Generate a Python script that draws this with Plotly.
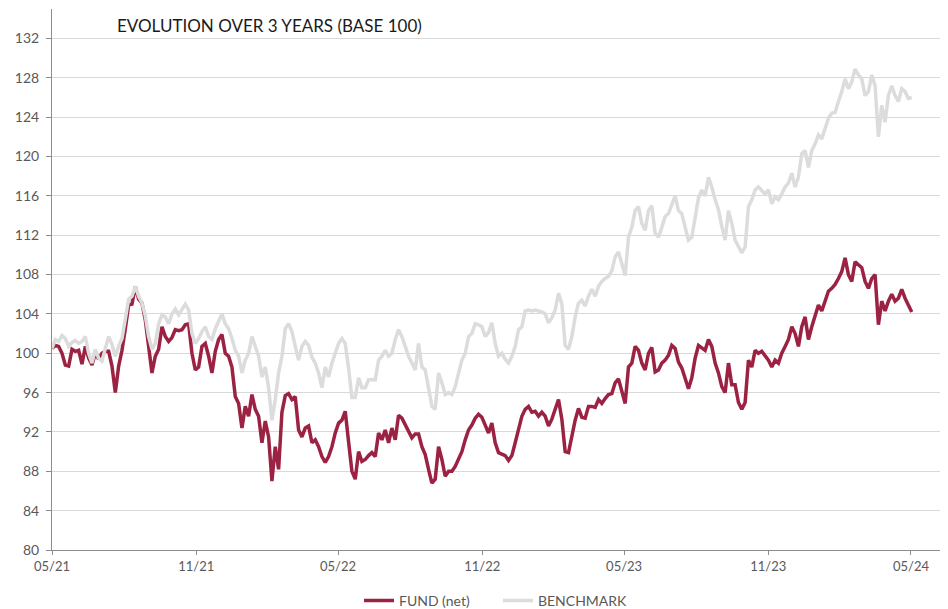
import pandas as pd
import plotly.graph_objects as go

# ---- data (roughly every 4 days) ----
fund_2021 = [100.5, 100.8, 100.7, 100.0, 98.8, 98.7, 100.4, 100.2, 100.3, 98.9, 100.7, 99.5, 98.8,
             100.0, 99.4, 100.0, 100.2, 100.2, 98.7, 96.0, 98.7, 100.3, 102.5, 104.9, 105.0, 106.8,
             105.5, 105.1, 103.4, 100.7, 98.0, 99.7, 100.4,
             102.7, 101.7, 101.2, 101.6, 102.4, 102.3, 102.4, 102.9, 103.0, 100.0, 98.3, 98.6, 100.7,
             101.0, 99.7, 98.0, 100.2, 101.4, 101.9, 100.0, 99.7, 98.6, 95.6, 94.9, 92.4, 94.6, 93.6,
             95.8, 94.3, 93.6, 90.9, 93.1, 91.5]
fund_2022a = [87.0, 90.5, 88.2, 94.0, 95.7, 95.9, 95.3, 95.6, 92.2, 91.5, 92.4, 92.6, 90.9, 91.2,
              90.5, 89.5, 88.9, 89.5, 90.5, 91.9, 92.9, 93.2, 94.1, 91.0, 88.0, 87.2, 90.0, 89.0,
              89.2, 89.6, 89.9,
              89.5, 91.9, 91.2, 92.2, 90.9, 92.4, 91.2, 93.7, 93.4, 92.7, 92.0, 91.4, 91.8, 91.8,
              90.5, 89.7, 88.2, 86.8, 87.2, 90.5, 89.2, 87.5, 88.0, 88.0, 88.5, 89.2, 90.0, 91.2,
              92.2, 92.7, 93.4, 93.8, 93.5]
fund_2022b = [92.7, 91.9, 92.9, 90.9, 89.9, 89.7, 89.6, 89.1, 89.6, 90.9, 92.3, 93.6, 94.3, 94.6,
              94.0, 94.1, 93.6, 94.0, 93.6, 92.6, 93.3, 94.3, 95.3, 93.3, 90.0, 89.9, 91.6, 93.2,
              94.4, 93.5, 93.4, 94.6, 94.6,
              94.5, 95.3, 94.9, 95.4, 95.8, 95.9, 97.0, 97.4, 96.1, 94.9, 98.6, 99.0, 100.7, 100.3,
              99.0, 98.3, 100.0, 100.6, 98.1, 98.3, 99.0, 99.3, 99.8, 100.8, 100.5, 99.1, 98.5, 97.3,
              96.4, 97.5, 99.5, 100.8, 100.5]
fund_2023 = [100.3, 101.4, 100.7, 99.0, 98.0, 96.6, 96.0, 99.0, 96.8, 96.8, 95.0, 94.3, 95.0, 99.3,
             98.6, 100.3, 100.0, 100.2, 99.7, 99.3, 98.6, 99.3, 99.0, 100.0, 100.7, 101.4, 102.7,
             102.0, 100.7, 102.7, 103.7, 101.4, 102.7,
             103.9, 104.9, 104.3, 105.3, 106.3, 106.6, 107.0, 107.6, 108.3, 109.7, 108.0, 107.3,
             109.3, 109.0, 108.7, 107.3, 106.6, 107.6, 108.0, 102.9, 105.3, 104.3, 105.3, 106.0,
             105.3, 105.6, 106.5, 105.6, 104.9, 104.2]

bench_2021 = [100.5, 101.4, 101.2, 101.8, 101.5, 100.7, 101.1, 101.3, 101.0, 101.2, 101.7, 100.0, 99.0,
              100.4, 99.5, 99.2, 100.5, 101.7, 100.9, 99.7, 100.7, 101.5, 103.5, 105.5, 105.8, 106.8,
              105.8, 105.1, 103.8, 101.7, 100.4, 101.0, 103.0,
              103.9, 103.7, 103.0, 104.0, 104.5, 103.9, 104.5, 105.0, 104.4, 102.0, 101.0, 101.5,
              102.2, 102.7, 101.7, 101.4, 102.5, 103.2, 104.0, 103.0, 102.5, 101.5, 100.3, 99.7,
              98.0, 99.3, 100.0, 101.7, 100.7, 99.7, 97.6, 98.6, 96.5]
bench_2022a = [93.2, 95.3, 98.0, 99.7, 102.5, 103.0, 102.2, 100.7, 99.3, 100.7, 101.2, 100.8, 99.6,
               99.0, 98.0, 96.5, 98.6, 97.6, 99.0, 100.0, 101.0, 101.5, 101.0, 98.5, 95.5, 95.5,
               97.5, 96.5, 96.5, 97.3, 97.3,
               97.3, 99.3, 99.7, 100.3, 99.7, 100.0, 101.4, 102.4, 101.7, 100.7, 99.7, 99.0, 98.3,
               101.0, 98.6, 98.3, 96.6, 94.6, 94.3, 98.0, 97.0, 95.8, 96.0, 95.8, 96.6, 98.0, 99.3,
               100.0, 101.7, 102.0, 103.0, 102.9, 102.7]
bench_2022b = [101.7, 102.1, 103.1, 101.0, 99.7, 100.0, 99.4, 99.0, 99.7, 100.7, 102.4, 102.7, 104.3,
               104.4, 104.3, 104.4, 104.3, 104.2, 104.0, 103.1, 103.6, 104.4, 106.1, 105.0, 100.8,
               100.4, 101.7, 103.7, 105.1, 105.4, 104.8, 105.8, 106.5, 105.8,
               106.8, 107.3, 107.6, 107.8, 108.4, 109.8, 110.3, 109.0, 107.9, 111.8, 112.8, 114.5,
               114.9, 113.2, 112.5, 114.5, 115.0, 112.2, 111.8, 112.8, 113.9, 114.2, 115.2, 116.0,
               114.5, 114.2, 112.8, 111.5, 111.8, 114.0, 115.8, 116.6]
bench_2023 = [116.0, 117.9, 116.9, 115.6, 114.6, 112.9, 111.5, 114.5, 113.2, 111.5, 110.8, 110.2,
              110.8, 114.9, 115.6, 116.6, 116.9, 116.6, 116.2, 116.6, 115.2, 115.9, 115.6, 116.2,
              116.9, 117.3, 118.3, 116.9, 117.9, 120.3, 120.6, 118.9, 120.6,
              121.3, 122.2, 121.8, 122.9, 123.9, 124.4, 124.5, 125.6, 126.6, 127.9, 126.9, 127.6,
              128.9, 128.3, 127.9, 126.2, 126.6, 128.3, 127.2, 122.0, 125.2, 123.5, 126.2, 127.2,
              126.2, 125.6, 126.9, 126.6, 125.9, 126.0]

fund = fund_2021 + fund_2022a + fund_2022b + fund_2023
bench = bench_2021 + bench_2022a + bench_2022b + bench_2023

start_date, end_date = "2021-05-01", "2024-05-02"
fund_dates = pd.date_range(start_date, end_date, periods=len(fund))
bench_dates = pd.date_range(start_date, end_date, periods=len(bench))

y_ticks = list(range(80, 133, 4))
x_tick_dates = ["2021-05-01", "2021-11-01", "2022-05-01", "2022-11-01",
                "2023-05-01", "2023-11-01", "2024-05-01"]
x_tick_labels = ["05/21", "11/21", "05/22", "11/22", "05/23", "11/23", "05/24"]

title_text = "EVOLUTION OVER 3 YEARS (BASE 100)"

# ---- figure ----
# (the page body has an 8px default margin, so the figure is sized 8px smaller)
FONT = "Lato, 'Noto Sans', sans-serif"
fig = go.Figure()
fig.add_trace(go.Scatter(x=fund_dates, y=fund, name="FUND (net)", mode="lines",
                         line=dict(color="#9b2242", width=3.5)))
fig.add_trace(go.Scatter(x=bench_dates, y=bench, name="BENCHMARK", mode="lines",
                         line=dict(color="#dcdcdc", width=3.5)))

fig.update_layout(
    width=940, height=601,
    margin=dict(l=44, r=1, t=1, b=59, autoexpand=False),
    paper_bgcolor="white", plot_bgcolor="white",
    font=dict(family=FONT, size=14, color="#595959"),
    showlegend=True,
    legend=dict(orientation="h", x=0.343, xanchor="left", y=-0.094, yanchor="middle",
                font=dict(size=14, color="#595959"),
                entrywidth=94, tracegroupgap=0),
    hovermode=False,
    annotations=[dict(text=title_text, xref="paper", yref="paper", x=0.0704, y=0.9704,
                      xanchor="left", yanchor="middle", showarrow=False,
                      font=dict(family=FONT, size=17, color="#1a1a1a"))],
)
fig.update_xaxes(
    type="date", range=["2021-05-01", "2024-06-16"],
    tickvals=x_tick_dates, ticktext=x_tick_labels,
    showgrid=False, showline=True, linecolor="#8c8c8c", linewidth=1,
    ticks="outside", ticklen=4, tickcolor="#8c8c8c", automargin=False,
    tickfont=dict(size=13, color="#595959"), zeroline=False,
)
fig.update_yaxes(
    range=[80, 135], tickvals=y_ticks,
    showgrid=True, gridcolor="#d9d9d9", gridwidth=1,
    showline=True, linecolor="#8c8c8c", linewidth=1,
    ticks="outside", ticklen=5, tickcolor="#8c8c8c", automargin=False,
    ticklabelstandoff=4,
    tickfont=dict(size=14, color="#595959"), zeroline=False,
)

fig.write_html("out.html")
